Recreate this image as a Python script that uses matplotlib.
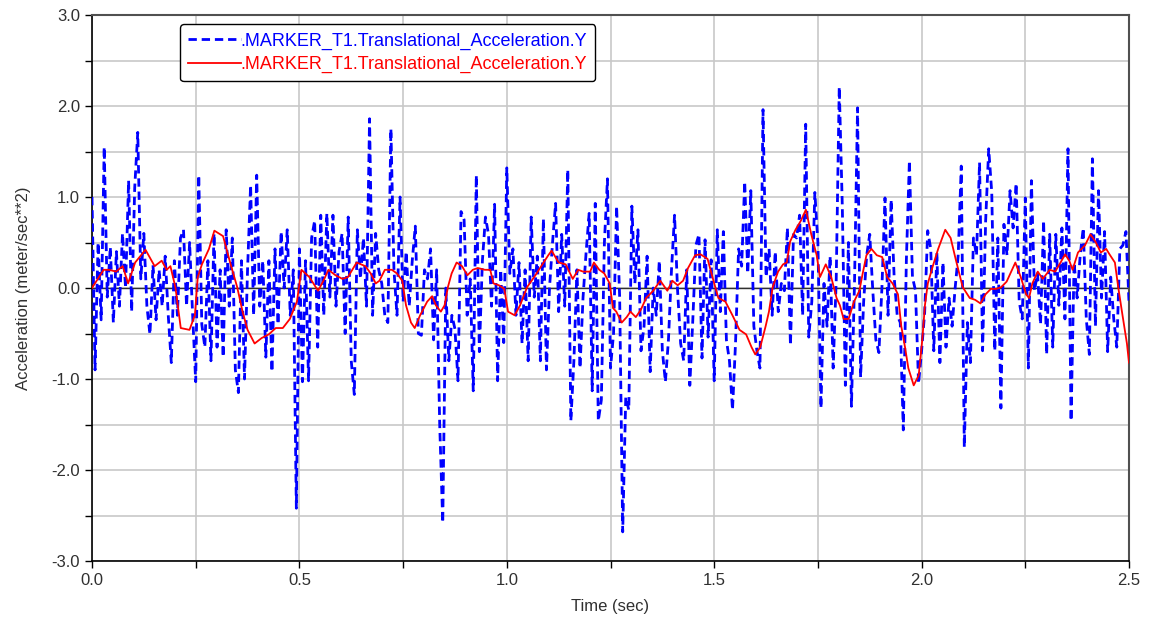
import numpy as np
import matplotlib
matplotlib.use("Agg")
import matplotlib.pyplot as plt
from matplotlib.ticker import MultipleLocator, FuncFormatter

plt.rcParams['font.family'] = ['Liberation Sans', 'DejaVu Sans']
plt.rcParams['lines.scale_dashes'] = False

legend_label = ".MARKER_T1.Translational_Acceleration.Y"
x_label = "Time (sec)"
y_label = "Acceleration (meter/sec**2)"

# Blue (dashed) series: 341 samples evenly spaced over 0..2.5 s
blue_values = [
    # 0.00 - 0.25
    1.0, -0.9, 0.5, -0.35, 1.55, -0.1, 0.45, -0.38, 0.4, -0.2, 0.6, 0.0, 1.18, -0.26, 1.1, 1.71, 0.1,
    0.6, -0.2, -0.51, 0.25, -0.35, 0.2, -0.2, 0.35, -0.3, -0.82, 0.3, -0.3, 0.55, 0.64, -0.2, 0.5, -0.3,
    # 0.25 - 0.50
    -1.03, 1.24, -0.4, -0.65, 0.3, -0.8, 0.6, -0.65, 0.2, -0.76, 0.64, -0.2, 0.55, -0.9, -1.15, 0.3, -1.0,
    0.2, 1.13, -0.3, 1.24, -0.2, 0.3, -0.76, 0.3, -0.92, 0.43, -0.4, 0.62, 0.0, 0.64, -0.3, 0.2, -2.42,
    # 0.50 - 0.75
    0.43, -1.03, 0.3, -1.02, 0.55, 0.74, -0.65, 0.8, -0.3, 0.82, -0.1, 0.8, -0.2, 0.4, 0.6, -0.5, 0.78,
    -0.8, -1.17, 0.64, 0.1, 0.55, -0.2, 1.86, -0.3, 0.6, 0.2, 0.05, -0.3, -0.38, 1.75, 0.2, -0.3, 1.0,
    # 0.75 - 1.00
    -0.15, 0.4, -0.2, 0.3, 0.68, -0.5, -0.52, 0.2, 0.1, 0.43, -0.57, 0.2, -1.5, -2.58, 0.0, -0.8, -0.3,
    -0.45, -1.02, 0.84, 0.75, -0.3, 0.1, -1.13, 1.24, -0.7, 0.3, 0.78, 0.59, -0.2, 0.92, -1.02, 0.2, -0.6,
    # 1.00 - 1.25
    1.32, 0.16, 0.43, -0.3, 0.28, -0.61, 0.2, -0.8, 0.78, -0.1, 0.35, -0.8, 0.76, -0.9, 0.0, 0.5, 0.93,
    -0.26, 0.59, -0.2, 1.3, -1.46, -0.8, 0.2, -0.88, -0.1, 0.39, 0.82, -1.13, 0.93, -1.46, -1.23, 0.5, 1.2,
    # 1.25 - 1.50
    -0.88, -0.5, 0.9, -0.1, -2.68, -1.2, -1.34, 0.9, 0.05, 0.64, -0.69, -0.42, 0.35, -0.92, 0.0, -0.3, 0.3,
    -0.69, -1.03, -0.57, 0.2, 0.8, -0.03, -0.61, -0.8, 0.2, -1.07, -0.34, 0.47, 0.59, -0.77, 0.53, -0.54, 0.31,
    # 1.50 - 1.75
    -1.02, 0.64, -0.26, 0.62, -0.57, -0.8, -1.34, -0.6, 0.43, 0.24, 1.17, 0.16, 1.07, -0.42, -0.69, -0.88, 1.96,
    0.12, 0.43, -0.3, 0.4, -0.26, 0.05, -0.03, 0.66, -0.63, 0.59, 0.55, 0.8, -0.3, 1.8, -0.54, -0.15, 1.05,
    # 1.75 - 2.00
    0.5, -1.32, 0.05, -0.42, 0.35, -0.88, 0.08, 2.21, 0.9, -1.07, 0.5, -1.3, 0.05, 1.98, -0.98, -0.15, 0.36,
    0.59, -0.03, -0.57, -0.71, 0.01, 0.99, -0.3, 0.97, 0.12, -0.3, -0.38, -1.56, 0.3, 1.4, 0.12, -0.03, -1.05,
    # 2.00 - 2.25
    -0.69, -0.27, 0.63, 0.43, -0.69, 0.39, -0.82, 0.28, -0.65, -0.11, -0.42, 0.0, 0.36, 1.34, -1.75, -0.38, -0.82,
    0.55, 0.36, 1.38, -0.69, 0.74, 1.53, 1.05, -0.69, 0.55, -1.32, 0.7, 0.36, 1.07, 0.66, 1.15, -0.15, -0.34,
    # 2.25 - 2.50
    0.99, -0.88, 1.18, -0.03, 0.16, -0.4, 0.74, -0.73, 0.59, -0.65, 0.59, -0.19, 0.66, -0.34, 1.53, -1.46, 0.28,
    -0.11, 0.36, 0.66, -0.34, -0.73, 1.42, -0.42, 1.07, -0.11, 0.62, -0.7, 0.12, -0.34, -0.65, 0.43, 0.47, 0.62,
    -0.15,
]
blue_time = np.linspace(0.0, 2.5, len(blue_values))

# Red (solid) series
red_time = [
    0.0, 0.028, 0.041, 0.058, 0.074, 0.087, 0.104, 0.129, 0.151, 0.168, 0.180, 0.189, 0.201, 0.214, 0.235, 0.248,
    0.255, 0.265, 0.282, 0.295, 0.316, 0.333, 0.350, 0.363, 0.375, 0.392, 0.409, 0.426, 0.443, 0.460, 0.477, 0.494,
    0.505, 0.524, 0.545, 0.558, 0.570, 0.587, 0.604, 0.617, 0.638, 0.659, 0.672, 0.684, 0.693, 0.706, 0.723, 0.735, 0.748,
    0.757, 0.769, 0.778, 0.791, 0.808, 0.820, 0.829, 0.841, 0.850, 0.858, 0.867, 0.879, 0.892, 0.905, 0.918, 0.930,
    0.947, 0.960, 0.968, 0.981, 0.994,
    1.003, 1.019, 1.032, 1.049, 1.066, 1.083, 1.100, 1.108, 1.125, 1.142, 1.159, 1.172, 1.184, 1.201, 1.210, 1.223,
    1.235, 1.248,
    1.256, 1.264, 1.277, 1.289, 1.298, 1.311, 1.323, 1.336, 1.353, 1.370, 1.387, 1.399, 1.412, 1.425, 1.437, 1.454,
    1.467, 1.484, 1.494,
    1.505, 1.510, 1.527, 1.544, 1.561, 1.577, 1.590, 1.599, 1.611, 1.624, 1.632, 1.641, 1.654, 1.666, 1.675, 1.683,
    1.696, 1.709, 1.721, 1.734, 1.747,
    1.755, 1.769, 1.782, 1.795, 1.803, 1.812, 1.824, 1.837, 1.850, 1.858, 1.867, 1.879, 1.892, 1.905, 1.917, 1.930,
    1.943, 1.951, 1.960, 1.968, 1.981, 1.993, 2.002,
    2.008, 2.015, 2.027, 2.040, 2.057, 2.070, 2.082, 2.099, 2.116, 2.129, 2.142, 2.154, 2.167, 2.180, 2.192, 2.205,
    2.218, 2.226, 2.239, 2.252,
    2.259, 2.267, 2.280, 2.292, 2.309, 2.322, 2.335, 2.346, 2.356, 2.364, 2.377, 2.394, 2.407, 2.419, 2.432, 2.445,
    2.453, 2.466, 2.474, 2.483, 2.495, 2.500,
]
red_values = [
    0.0, 0.20, 0.20, 0.18, 0.24, 0.05, 0.28, 0.42, 0.24, 0.30, 0.20, 0.24, 0.01, -0.44, -0.46, -0.30,
    0.12, 0.26, 0.43, 0.63, 0.57, 0.28, 0.01, -0.26, -0.46, -0.61, -0.55, -0.51, -0.44, -0.44, -0.34, -0.15,
    0.20, 0.12, -0.03, 0.08, 0.20, 0.14, 0.10, 0.12, 0.28, 0.24, 0.16, 0.05, 0.08, 0.20, 0.20, 0.16, 0.08,
    -0.19, -0.38, -0.44, -0.30, -0.15, -0.09, -0.19, -0.26, -0.19, 0.01, 0.16, 0.28, 0.24, 0.14, 0.20, 0.22,
    0.20, 0.20, 0.05, 0.03, -0.01,
    -0.26, -0.30, -0.19, 0.01, 0.12, 0.24, 0.36, 0.41, 0.28, 0.26, 0.10, 0.20, 0.18, 0.18, 0.28, 0.20,
    0.16, 0.05,
    -0.22, -0.26, -0.38, -0.32, -0.26, -0.32, -0.24, -0.11, -0.03, 0.08, -0.03, 0.08, 0.03, 0.08, 0.22, 0.36,
    0.37, 0.32, 0.15,
    -0.03, -0.11, -0.15, -0.30, -0.46, -0.51, -0.65, -0.73, -0.65, -0.42, -0.26, 0.01, 0.18, 0.26, 0.28, 0.51,
    0.64, 0.74, 0.86, 0.59, 0.36,
    0.12, 0.26, 0.12, -0.11, -0.19, -0.34, -0.34, -0.15, -0.03, 0.16, 0.36, 0.43, 0.36, 0.34, 0.12, 0.05,
    -0.07, -0.42, -0.65, -0.88, -1.07, -0.96, -0.55,
    -0.19, 0.05, 0.24, 0.43, 0.64, 0.55, 0.32, 0.01, -0.11, -0.13, -0.17, -0.07, -0.01, -0.01, 0.01, 0.07,
    0.20, 0.28, 0.12, -0.07,
    -0.11, 0.05, 0.18, 0.10, 0.20, 0.18, 0.28, 0.37, 0.30, 0.20, 0.39, 0.47, 0.59, 0.51, 0.39, 0.43,
    0.37, 0.28, 0.01, -0.26, -0.61, -0.82,
]

x_major = [0.0, 0.5, 1.0, 1.5, 2.0, 2.5]
y_major = [-3.0, -2.0, -1.0, 0.0, 1.0, 2.0, 3.0]

fig = plt.figure(figsize=(11.49, 6.23), dpi=100)
ax = fig.add_axes([92 / 1149, 1 - 561 / 623, (1129 - 92) / 1149, (561 - 15) / 623])

grid_col = "#c8c8c8"
ax.set_xlim(0.0, 2.5)
ax.set_ylim(-3.0, 3.0)
ax.xaxis.set_major_locator(MultipleLocator(0.25))
ax.yaxis.set_major_locator(MultipleLocator(0.5))
ax.xaxis.set_major_formatter(FuncFormatter(lambda v, p: f"{v:.1f}" if any(abs(v - m) < 1e-6 for m in x_major) else ""))
ax.yaxis.set_major_formatter(FuncFormatter(lambda v, p: f"{v:.1f}" if any(abs(v - m) < 1e-6 for m in y_major) else ""))
ax.grid(True, color=grid_col, linewidth=1.2, zorder=0)
ax.set_axisbelow(True)
ax.axhline(0.0, color="#303030", linewidth=1.0, zorder=1)

ax.tick_params(axis="both", direction="out", length=5, width=1, colors="black",
               labelcolor="#303030", labelsize=12)
for side in ["left", "bottom"]:
    ax.spines[side].set_color("black")
    ax.spines[side].set_linewidth(1.2)
for side in ["top", "right"]:
    ax.spines[side].set_color("#505050")
    ax.spines[side].set_linewidth(1.5)

ax.plot(blue_time, blue_values, color="#0000ff", linewidth=2.0, dashes=(6, 3.5),
        label=legend_label, zorder=3)
ax.plot(red_time, red_values, color="#ff0000", linewidth=1.3, label=legend_label, zorder=4)

ax.set_xlabel(x_label, fontsize=12, color="#303030", labelpad=8)
ax.set_ylabel(y_label, fontsize=12, color="#303030", labelpad=15)

leg = ax.legend(loc="upper left", bbox_to_anchor=(0.085, 0.983), fontsize=13,
                handlelength=2.9, handletextpad=0.0, borderpad=0.45, labelspacing=0.35,
                frameon=True, fancybox=True, framealpha=1.0, borderaxespad=0)
leg.get_frame().set_edgecolor("black")
leg.get_frame().set_linewidth(1.0)
for txt, col in zip(leg.get_texts(), ["#0000ff", "#ff0000"]):
    txt.set_color(col)

fig.savefig("out.png", dpi=100, facecolor="white")
